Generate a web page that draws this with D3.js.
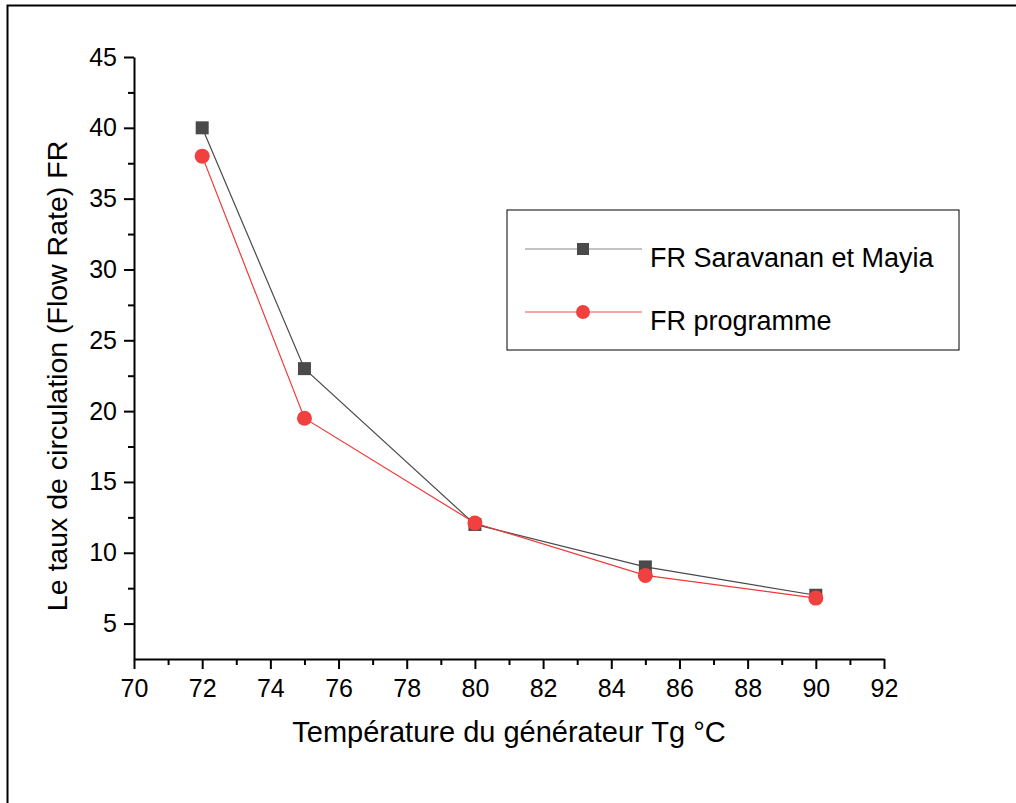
<!DOCTYPE html>
<html>
<head>
<meta charset="utf-8">
<script src="https://cdn.jsdelivr.net/npm/d3@7"></script>
<style>
  body { margin: 0; background: #fff; }
  text { font-family: Arial, "Liberation Sans", sans-serif; fill: #000; }
</style>
</head>
<body>
<div id="chart"></div>
<script>
// temperatures (°C)
let temps = [72, 75, 80, 85, 90];
// FR Saravanan et Mayia
let frSaravanan = [40, 23, 12, 9, 7];
// FR programme
let frProgramme = [38, 19.5, 12.1, 8.4, 6.8];

let seriesNames = ['FR Saravanan et Mayia', 'FR programme'];
let xTicks = [70, 72, 74, 76, 78, 80, 82, 84, 86, 88, 90, 92];
let yTicks = [5, 10, 15, 20, 25, 30, 35, 40, 45];

let chart_width = 1016;
let chart_height = 803;

let svg = d3.select('#chart')
    .append('svg')
    .attr('width', chart_width)
    .attr('height', chart_height);

// outer frame (only left/top visible in the picture)
svg.append('rect')
    .attr('x', 7.5)
    .attr('y', 5.5)
    .attr('width', 1100)
    .attr('height', 1000)
    .attr('fill', 'none')
    .attr('stroke', '#000')
    .attr('stroke-width', 2);

let xScale = d3.scaleLinear()
    .domain([70, 92])
    .range([134, 884]);

let yScale = d3.scaleLinear()
    .domain([2.5, 45])
    .range([659, 57]);

// minor ticks
let xAxisMinor = d3.axisBottom(xScale)
    .tickValues(d3.range(71, 92, 2))
    .tickSize(6)
    .tickFormat('');
let yAxisMinor = d3.axisLeft(yScale)
    .tickValues(d3.range(7.5, 45, 5))
    .tickSize(6)
    .tickFormat('');

let xAxis = d3.axisBottom(xScale)
    .tickValues(xTicks)
    .tickSize(10)
    .tickPadding(10)
    .tickSizeOuter(0);

let yAxis = d3.axisLeft(yScale)
    .tickValues(yTicks)
    .tickSize(10)
    .tickPadding(7)
    .tickSizeOuter(0);

function styleAxis(g) {
    g.attr('font-size', 25).attr('font-family', 'Arial, "Liberation Sans", sans-serif');
    g.selectAll('path, line').attr('stroke', '#000').attr('stroke-width', 2);
    g.selectAll('text').attr('font-size', 25).attr('fill', '#000');
}

svg.append('g')
    .attr('transform', 'translate(0,659)')
    .call(xAxisMinor)
    .call(styleAxis)
    .select('.domain').remove();

svg.append('g')
    .attr('transform', 'translate(134,0)')
    .call(yAxisMinor)
    .call(styleAxis)
    .select('.domain').remove();

svg.append('g')
    .attr('class', 'x-axis')
    .attr('transform', 'translate(0,659)')
    .call(xAxis)
    .call(styleAxis);

svg.append('g')
    .attr('class', 'y-axis')
    .attr('transform', 'translate(134,0)')
    .call(yAxis)
    .call(styleAxis);

// axis titles
svg.append('text')
    .attr('x', 509)
    .attr('y', 742)
    .attr('text-anchor', 'middle')
    .attr('font-size', 29)
    .text('Température du générateur Tg °C');

svg.append('text')
    .attr('transform', 'translate(67,376) rotate(-90)')
    .attr('text-anchor', 'middle')
    .attr('font-size', 28.5)
    .text('Le taux de circulation (Flow Rate) FR');

// lines
let line = d3.line()
    .x(d => xScale(d[0]))
    .y(d => yScale(d[1]));

let data1 = temps.map((t, i) => [t, frSaravanan[i]]);
let data2 = temps.map((t, i) => [t, frProgramme[i]]);

svg.append('path')
    .datum(data1)
    .attr('d', line)
    .attr('fill', 'none')
    .attr('stroke', '#4a4a4a')
    .attr('stroke-width', 1.2);

svg.append('path')
    .datum(data2)
    .attr('d', line)
    .attr('fill', 'none')
    .attr('stroke', '#f03838')
    .attr('stroke-width', 1.2);

svg.append('g')
    .selectAll('rect')
    .data(data1)
    .enter()
    .append('rect')
    .attr('x', d => xScale(d[0]) - 6.5)
    .attr('y', d => yScale(d[1]) - 6.5)
    .attr('width', 13)
    .attr('height', 13)
    .attr('fill', '#4a4a4a');

svg.append('g')
    .selectAll('circle')
    .data(data2)
    .enter()
    .append('circle')
    .attr('cx', d => xScale(d[0]))
    .attr('cy', d => yScale(d[1]))
    .attr('r', 7.5)
    .attr('fill', '#f04040');

// legend
let legend = svg.append('g');
legend.append('rect')
    .attr('x', 507)
    .attr('y', 210)
    .attr('width', 452)
    .attr('height', 140)
    .attr('fill', '#fff')
    .attr('stroke', '#000')
    .attr('stroke-width', 1);

let legendY = [249, 312];
let legendColors = ['#4a4a4a', '#f04040'];
legendY.forEach(function (y, i) {
    legend.append('line')
        .attr('x1', 525).attr('x2', 642)
        .attr('y1', y).attr('y2', y)
        .attr('stroke', i === 0 ? '#888' : '#f05050')
        .attr('stroke-width', 1.2);
    if (i === 0) {
        legend.append('rect')
            .attr('x', 577).attr('y', y - 6)
            .attr('width', 12).attr('height', 12)
            .attr('fill', legendColors[i]);
    } else {
        legend.append('circle')
            .attr('cx', 583).attr('cy', y)
            .attr('r', 7)
            .attr('fill', legendColors[i]);
    }
    legend.append('text')
        .attr('x', 650)
        .attr('y', y + 18)
        .attr('font-size', 27)
        .text(seriesNames[i]);
});
</script>
</body>
</html>
